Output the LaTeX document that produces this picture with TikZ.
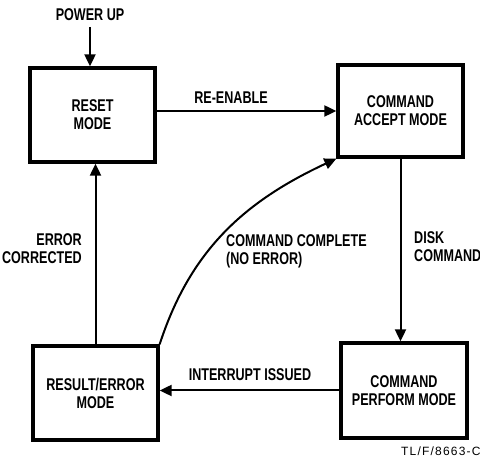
\documentclass[tikz,border=0pt]{standalone}
\usepackage{fontspec}
\setmainfont{Liberation Sans}[FakeStretch=0.74]
\newfontfamily\tlfont{Liberation Sans}[LetterSpace=10]
\usetikzlibrary{arrows.meta}
\begin{document}
\begin{tikzpicture}[x=1pt,y=1pt,
  box/.style={draw, line width=3.3pt, minimum width=125pt, minimum height=94pt, align=center, font=\fontsize{17}{18}\selectfont\bfseries, inner sep=0pt},
  lbl/.style={font=\fontsize{17}{18}\selectfont\bfseries, inner sep=0pt},
  arr/.style={line width=2pt, -{Triangle[length=12pt,width=11pt]}}]
\useasboundingbox (0,0) rectangle (480,463);
\node[box] (reset) at (92.5,348) {RESET\\MODE};
\node[box, minimum height=92pt] (acc) at (400.5,352) {COMMAND\\ACCEPT MODE};
\node[box] (res) at (95.5,70) {RESULT/ERROR\\MODE};
\node[box, minimum width=126pt, minimum height=95pt] (perf) at (404,72.5) {COMMAND\\PERFORM MODE};
\node[lbl] (pw) at (90,448) {POWER UP};
\coordinate (pwa) at (90,436);
\draw[arr] (pwa) -- (pwa |- reset.north);
\draw[arr] (reset.east |- acc.west) -- (acc.west);
\node[lbl] (reen) at (231,365) {RE-ENABLE};
\draw[arr] (res.north) -- (res.north |- reset.south);
\node[lbl, anchor=east, align=right] (ec) at (82,214) {ERROR\\CORRECTED};
\draw[arr] (acc.south) -- (acc.south |- perf.north);
\node[lbl, anchor=west, align=left] (dc) at (414,216) {DISK\\COMMAND};
\draw[arr] (perf.west) -- (perf.west -| res.east);
\node[lbl] (ii) at (250,88) {INTERRUPT ISSUED};
\draw[arr] (res.north east) to[out=72, in=205] (acc.south west);
\node[lbl, anchor=west, align=left] (cc) at (226,212) {COMMAND COMPLETE\\(NO ERROR)};
\node[anchor=base west, inner sep=0pt, font=\tlfont\fontsize{12}{14}\selectfont] (tl) at (401,7) {TL/F/8663-C};
\end{tikzpicture}
\end{document}
